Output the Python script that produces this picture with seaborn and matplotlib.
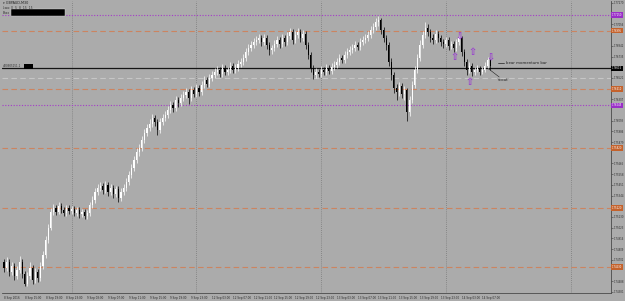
import matplotlib
matplotlib.use("Agg")
import matplotlib.pyplot as plt
import matplotlib.patches as mpatches
import numpy as np
import pandas as pd
import seaborn as sns

# ---------------- data ----------------
symbol_title = "GBPAUD,M30"
first_open = 1.7468
closes = [1.7462, 1.7468, 1.7458, 1.7464, 1.7454, 1.7460, 1.7468, 1.7456, 1.7446, 1.7454, 1.7462, 1.7450, 1.7458, 1.7452, 1.7464,
          1.7475, 1.7490, 1.7502, 1.7518,
          1.7522, 1.7518, 1.7524, 1.7520, 1.7517, 1.7522, 1.7519,
          1.7521, 1.7517, 1.7520, 1.7516, 1.7518, 1.7514, 1.7517,
          1.7525, 1.7530, 1.7538, 1.7542, 1.7544,
          1.7540, 1.7545, 1.7538, 1.7542, 1.7536, 1.7541, 1.7532, 1.7538, 1.7542, 1.7548,
          1.7555, 1.7562, 1.7570, 1.7578, 1.7582, 1.7590, 1.7597, 1.7602, 1.7606,
          1.7612, 1.7608, 1.7600, 1.7608, 1.7612, 1.7615,
          1.7620, 1.7625, 1.7622, 1.7630, 1.7627, 1.7632,
          1.7635, 1.7638, 1.7632, 1.7640, 1.7636, 1.7642, 1.7638,
          1.7645, 1.7650, 1.7646, 1.7652, 1.7655, 1.7658,
          1.7660, 1.7656, 1.7662, 1.7658, 1.7660, 1.7664, 1.7660, 1.7662, 1.7666, 1.7668,
          1.7672, 1.7678, 1.7682, 1.7685, 1.7688, 1.7690, 1.7692,
          1.7688, 1.7692, 1.7685, 1.7680, 1.7682, 1.7686,
          1.7690, 1.7686, 1.7692, 1.7688, 1.7694, 1.7698,
          1.7690, 1.7695, 1.7698, 1.7692, 1.7696, 1.7685,
          1.7675, 1.7662, 1.7655, 1.7658, 1.7656, 1.7660,
          1.7658, 1.7662, 1.7659, 1.7663, 1.7665,
          1.7668, 1.7672, 1.7670, 1.7675, 1.7678, 1.7680,
          1.7682, 1.7685, 1.7683, 1.7688, 1.7690, 1.7692,
          1.7695, 1.7700, 1.7703, 1.7708, 1.7710,
          1.7700, 1.7692, 1.7685, 1.7668, 1.7655,
          1.7642, 1.7638, 1.7644, 1.7636, 1.7640, 1.7618,
          1.7630, 1.7645, 1.7660, 1.7672, 1.7685,
          1.7695, 1.7702, 1.7698, 1.7692, 1.7690,
          1.7696, 1.7692, 1.7688, 1.7686, 1.7690, 1.7684,
          1.7686, 1.7682, 1.7688, 1.7692,
          1.7678, 1.7668, 1.7660, 1.7664, 1.7658, 1.7660, 1.7662,
          1.7658, 1.7660, 1.7664, 1.7670, 1.7664]
highs = [1.7471, 1.7473, 1.7471, 1.7468, 1.7467, 1.7464, 1.7474, 1.7471, 1.7459, 1.7458, 1.7468, 1.7465, 1.7462, 1.7461, 1.7468,
         1.7479, 1.7494, 1.7506, 1.7522,
         1.7526, 1.7525, 1.7528, 1.7527, 1.7523, 1.7525, 1.7525,
         1.7524, 1.7524, 1.7523, 1.7523, 1.7521, 1.7521, 1.7520,
         1.7528, 1.7534, 1.7542, 1.7546, 1.7548,
         1.7547, 1.7549, 1.7548, 1.7546, 1.7545, 1.7544, 1.7544, 1.7542, 1.7546, 1.7552,
         1.7559, 1.7566, 1.7574, 1.7582, 1.7586, 1.7594, 1.7601, 1.7606, 1.7611,
         1.7616, 1.7615, 1.7611, 1.7612, 1.7616, 1.7619,
         1.7624, 1.7629, 1.7628, 1.7634, 1.7633, 1.7636,
         1.7639, 1.7642, 1.7641, 1.7644, 1.7643, 1.7646, 1.7645,
         1.7649, 1.7654, 1.7653, 1.7656, 1.7659, 1.7662,
         1.7664, 1.7663, 1.7666, 1.7665, 1.7663, 1.7668, 1.7667, 1.7666, 1.7670, 1.7672,
         1.7676, 1.7682, 1.7686, 1.7689, 1.7692, 1.7694, 1.7696,
         1.7695, 1.7696, 1.7695, 1.7688, 1.7685, 1.7690,
         1.7694, 1.7693, 1.7696, 1.7695, 1.7698, 1.7702,
         1.7701, 1.7699, 1.7702, 1.7701, 1.7700, 1.7699,
         1.7688, 1.7678, 1.7665, 1.7662, 1.7661, 1.7664,
         1.7663, 1.7666, 1.7665, 1.7667, 1.7669,
         1.7672, 1.7676, 1.7675, 1.7679, 1.7682, 1.7684,
         1.7686, 1.7689, 1.7688, 1.7692, 1.7694, 1.7696,
         1.7699, 1.7704, 1.7707, 1.7712, 1.7714,
         1.7712, 1.7703, 1.7695, 1.7688, 1.7672,
         1.7658, 1.7646, 1.7648, 1.7647, 1.7644, 1.7642,
         1.7634, 1.7649, 1.7664, 1.7676, 1.7690,
         1.7699, 1.7708, 1.7706, 1.7701, 1.7696,
         1.7700, 1.7699, 1.7695, 1.7691, 1.7693, 1.7693,
         1.7689, 1.7689, 1.7691, 1.7695,
         1.7694, 1.7681, 1.7671, 1.7668, 1.7667, 1.7663, 1.7665,
         1.7664, 1.7663, 1.7668, 1.7673, 1.7671]
lows = [1.7458, 1.7459, 1.7454, 1.7455, 1.7450, 1.7451, 1.7457, 1.7452, 1.7444, 1.7444, 1.7451, 1.7446, 1.7447, 1.7448, 1.7449,
        1.7461, 1.7472, 1.7487, 1.7500,
        1.7515, 1.7515, 1.7516, 1.7517, 1.7514, 1.7514, 1.7516,
        1.7516, 1.7514, 1.7514, 1.7512, 1.7513, 1.7511, 1.7511,
        1.7514, 1.7522, 1.7527, 1.7535, 1.7539,
        1.7536, 1.7537, 1.7534, 1.7535, 1.7532, 1.7533, 1.7528, 1.7529, 1.7535, 1.7539,
        1.7545, 1.7552, 1.7559, 1.7567, 1.7574, 1.7579, 1.7587, 1.7594, 1.7599,
        1.7603, 1.7604, 1.7595, 1.7597, 1.7605, 1.7609,
        1.7612, 1.7617, 1.7618, 1.7619, 1.7623, 1.7624,
        1.7629, 1.7632, 1.7626, 1.7629, 1.7633, 1.7633, 1.7634,
        1.7635, 1.7642, 1.7643, 1.7643, 1.7649, 1.7652,
        1.7655, 1.7653, 1.7653, 1.7655, 1.7655, 1.7657, 1.7657, 1.7657, 1.7659, 1.7663,
        1.7665, 1.7669, 1.7675, 1.7679, 1.7682, 1.7685, 1.7687,
        1.7684, 1.7685, 1.7681, 1.7675, 1.7676, 1.7679,
        1.7683, 1.7682, 1.7683, 1.7684, 1.7685, 1.7691,
        1.7686, 1.7687, 1.7692, 1.7688, 1.7689, 1.7681,
        1.7671, 1.7658, 1.7651, 1.7652, 1.7653, 1.7653,
        1.7655, 1.7655, 1.7656, 1.7656, 1.7660,
        1.7662, 1.7665, 1.7667, 1.7667, 1.7672, 1.7675,
        1.7677, 1.7679, 1.7680, 1.7680, 1.7685, 1.7687,
        1.7689, 1.7692, 1.7697, 1.7700, 1.7704,
        1.7696, 1.7688, 1.7680, 1.7664, 1.7650,
        1.7637, 1.7630, 1.7634, 1.7632, 1.7630, 1.7609,
        1.7614, 1.7627, 1.7642, 1.7657, 1.7669,
        1.7682, 1.7692, 1.7694, 1.7688, 1.7686,
        1.7687, 1.7688, 1.7684, 1.7682, 1.7683, 1.7680,
        1.7681, 1.7678, 1.7679, 1.7685,
        1.7674, 1.7664, 1.7655, 1.7657, 1.7654, 1.7655, 1.7658,
        1.7655, 1.7656, 1.7658, 1.7662, 1.7660]

x_tick_bars = [0, 8, 16, 24, 32, 40, 48, 56, 64, 72, 80, 88, 96, 104, 112, 120, 128, 136, 144, 152, 160, 168, 176, 184]
x_tick_labels = ["8 Sep 2016", "8 Sep 15:00", "8 Sep 19:00", "8 Sep 23:00", "9 Sep 03:00", "9 Sep 07:00",
                 "9 Sep 11:00", "9 Sep 15:00", "9 Sep 19:00", "9 Sep 23:00", "12 Sep 03:00", "12 Sep 07:00",
                 "12 Sep 11:00", "12 Sep 15:00", "12 Sep 19:00", "12 Sep 23:00", "13 Sep 03:00", "13 Sep 07:00",
                 "13 Sep 11:00", "13 Sep 15:00", "13 Sep 19:00", "13 Sep 23:00", "14 Sep 03:00", "14 Sep 07:00"]
day_separator_bars = [26, 74, 122, 170, 218]
y_tick_values = [1.77270, 1.77163, 1.77056, 1.76949, 1.76842, 1.76735, 1.76628, 1.76521, 1.76414, 1.76307,
                 1.76200, 1.76093, 1.75986, 1.75879, 1.75772, 1.75665, 1.75558, 1.75451, 1.75344, 1.75237,
                 1.75130, 1.75023, 1.74916, 1.74809, 1.74702, 1.74595, 1.74488, 1.74381]

level_prices = [1.77150, 1.76995, 1.76615, 1.76520, 1.76410, 1.76245, 1.75820, 1.75220, 1.74630]
level_kinds = ["purple", "orange", "black", "grey", "orange", "purple", "orange", "orange", "orange"]

arrow_bars = [175.4, 173.5, 180.4, 179.2, 187.3]
arrow_prices = [1.7695, 1.7673, 1.7678, 1.7648, 1.7674]
arrow_dirs = ["down", "up", "up", "up", "down"]

# ---------------- drawing ----------------
BG = "#ababab"
sns.set_style("white", {"axes.facecolor": BG, "figure.facecolor": BG})
plt.rcParams["font.family"] = ["DejaVu Sans"]

fig = plt.figure(figsize=(6.25, 3.01), dpi=100, facecolor=BG)
W, H = 625, 301
ax = fig.add_axes([2 / W, 1 - 293 / H, 609 / W, 292 / H])
ax.set_facecolor(BG)

n = len(closes)
opens = [first_open] + closes[:-1]
df = pd.DataFrame({"bar": np.arange(n), "open": opens, "high": highs, "low": lows, "close": closes})
df["bull"] = df["close"] >= df["open"]
df["color"] = np.where(df["bull"], "white", "black")

# wicks
ax.vlines(df["bar"], df["low"], df["high"], colors=df["color"], linewidth=0.5, zorder=3)
# bodies
body_bottom = df[["open", "close"]].min(axis=1)
body_h = (df["close"] - df["open"]).abs().clip(lower=0.00003)
ax.bar(df["bar"], body_h, bottom=body_bottom, width=0.42, color=df["color"], edgecolor="none",
       linewidth=0, zorder=4)

ax.set_xlim(-0.77, 233.5)
ax.set_ylim(1.7437, 1.7729)

# day separators
for b in day_separator_bars:
    ax.axvline(b, color="#7a7a7a", linestyle=(0, (1, 1.5)), linewidth=0.6, zorder=1)

style_map = {
    "purple": dict(color="#a43cc8", linestyle=(0, (1, 1.5)), linewidth=0.8, label_bg="#9a2fc8", label_fg="white"),
    "orange": dict(color="#cc8460", linestyle=(0, (5, 3)), linewidth=0.8, label_bg="#c4622c", label_fg="white"),
    "black": dict(color="#151515", linestyle="-", linewidth=0.9, label_bg="#000000", label_fg="white"),
    "grey": dict(color="#c6c6c6", linestyle=(0, (5, 3)), linewidth=0.8, label_bg=None, label_fg=None),
}
labelled_prices = []
for p, k in zip(level_prices, level_kinds):
    st = style_map[k]
    ax.axhline(p, color=st["color"], linestyle=st["linestyle"], linewidth=st["linewidth"], zorder=2)
    if st["label_bg"]:
        labelled_prices.append(p)
        ax.text(1.0012, p, f"{p:.5f}", transform=ax.get_yaxis_transform(), fontsize=1.8,
                color=st["label_fg"], va="center", ha="left", clip_on=False, zorder=6,
                bbox=dict(boxstyle="square,pad=0.3", facecolor=st["label_bg"], edgecolor="none"))

# axes ticks: hide the plain tick labels that sit under a level label
shown_ticks = [v for v in y_tick_values if min(abs(v - lp) for lp in labelled_prices) > 0.00055]
ax.yaxis.tick_right()
ax.set_yticks(shown_ticks)
ax.set_yticklabels([f"{v:.5f}" for v in shown_ticks], fontsize=1.8, color="#2a2a2a")
ax.tick_params(axis="y", length=1.2, width=0.4, pad=0.6, colors="#3a3a3a", labelcolor="#2a2a2a")
ax.set_xticks(x_tick_bars)
ax.set_xticklabels(x_tick_labels, fontsize=2.0, color="#2a2a2a", ha="left")
ax.tick_params(axis="x", length=1.5, width=0.4, pad=1, colors="#3a3a3a", labelcolor="#2a2a2a")
for s in ["left", "top"]:
    ax.spines[s].set_visible(False)
for s in ["right", "bottom"]:
    ax.spines[s].set_color("#4a4a4a")
    ax.spines[s].set_linewidth(0.6)

# purple arrows
arr_df = pd.DataFrame({"bar": arrow_bars, "price": arrow_prices, "dir": arrow_dirs})
for _, r in arr_df.iterrows():
    ax.text(r["bar"], r["price"], "⇩" if r["dir"] == "down" else "⇧", fontsize=7, color="#9a3fcf",
            ha="center", va="center", zorder=7, fontweight="bold")

# annotations
ax.plot([190.0, 192.5], [1.7667, 1.7667], color="#202020", linewidth=0.5, zorder=7)
ax.text(193.0, 1.7667, "bear momentum bar", fontsize=2.8, color="#202020", va="center", ha="left", zorder=7)
ax.plot([186.5, 190.5], [1.7661, 1.7653], color="#202020", linewidth=0.4, zorder=7)
ax.text(190.0, 1.7650, "scout", fontsize=2.8, color="#202020", va="center", ha="left", zorder=7)

# header texts
fig.text(3 / W, 1 - 3 / H, "▾ " + symbol_title, fontsize=2.4, color="#202020", va="center", ha="left")
fig.text(3 / W, 1 - 8 / H, "Lwa: 0  5  8  15  15", fontsize=2.2, color="#303030", va="center", ha="left")
fig.text(3 / W, 1 - 12.5 / H, "Boxx", fontsize=2.2, color="#303030", va="center", ha="left")
fig.patches.append(mpatches.Rectangle((11 / W, 1 - 15.5 / H), 54 / W, 6.5 / H, transform=fig.transFigure,
                                      facecolor="black", edgecolor="#dddddd", linewidth=0.3))
fig.text(3 / W, 1 - 66.5 / H, "#20905151.1", fontsize=2.0, color="#303030", va="center", ha="left")
fig.patches.append(mpatches.Rectangle((23.5 / W, 1 - 68.5 / H), 9 / W, 4.5 / H, transform=fig.transFigure,
                                      facecolor="black", edgecolor="none"))

fig.savefig("out.png", dpi=100, facecolor=BG)
